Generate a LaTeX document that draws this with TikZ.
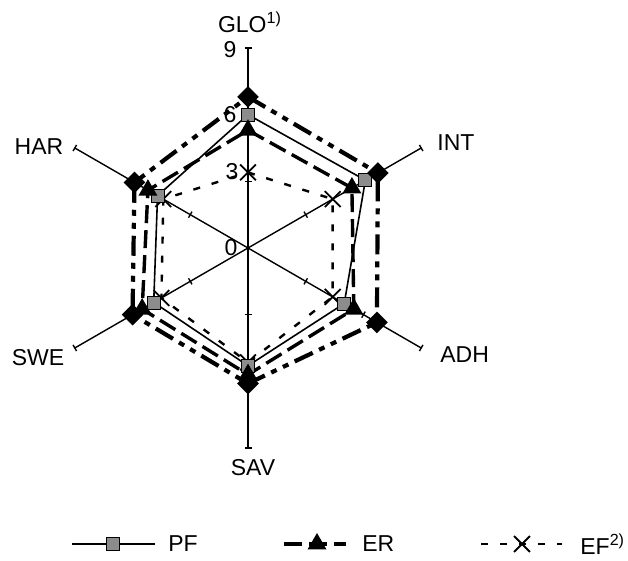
\documentclass[tikz,border=0pt]{standalone}
\usepackage{fontspec}
\setmainfont{Liberation Sans}
\usetikzlibrary{arrows,positioning,shapes.geometric,shapes.misc,calc}

\begin{document}
\begin{tikzpicture}[x=0.5pt,y=0.5pt,
  every node/.style={font=\fontsize{11.5}{13}\selectfont,inner sep=0pt},
  axis/.style={line width=0.7pt},
  pfline/.style={line width=0.8pt},
  erline/.style={line width=1.7pt,dash pattern=on 9pt off 3.5pt},
  efline/.style={line width=1.2pt,dash pattern=on 3.5pt off 6pt},
  dmline/.style={line width=2.1pt,dash pattern=on 10pt off 3.5pt on 3pt off 3.5pt on 3pt off 3.5pt},
  pfmark/.style={rectangle,draw,line width=0.4pt,fill=black!45,minimum size=6.5pt},
  ermark/.style={regular polygon,regular polygon sides=3,fill,minimum size=11pt},
  efmark/.style={cross out,draw,line width=0.9pt,minimum size=7pt},
  dmmark/.style={diamond,fill,minimum size=11pt}]
  \useasboundingbox (0,0) rectangle (628,561);
  \coordinate (O) at (248,313);
  % axes with ticks at 3, 6, 9
  \foreach \nm/\ang in {glo/90,int/30,adh/-30,sav/-90,swe/210,har/150}{
    \coordinate (\nm) at ($(O)+(\ang:200)$);
    \draw[axis] (O) -- (\nm);
    \foreach \t in {3,6,9}
      \draw[axis] ($(O)+(\ang:\t*22.22)+({\ang+90}:3.5)$) -- ($(O)+(\ang:\t*22.22)+({\ang-90}:3.5)$);
  }
  % data points
  \foreach \nm/\ang/\dm/\pf/\er/\ef in {glo/90/6.8/6.0/5.3/3.4,int/30/6.75/6.1/5.4/4.4,
      adh/-30/6.7/5.0/5.5/4.4,sav/-90/6.1/5.3/5.7/5.15,swe/210/6.0/4.9/5.5/4.5,har/150/5.9/4.7/5.2/4.4}{
    \coordinate (dm-\nm) at ($(O)+(\ang:\dm*22.22)$);
    \coordinate (pf-\nm) at ($(O)+(\ang:\pf*22.22)$);
    \coordinate (er-\nm) at ($(O)+(\ang:\er*22.22)$);
    \coordinate (ef-\nm) at ($(O)+(\ang:\ef*22.22)$);
  }
  \draw[efline] (ef-glo) -- (ef-int) -- (ef-adh) -- (ef-sav) -- (ef-swe) -- (ef-har) -- cycle;
  \draw[pfline] (pf-glo) -- (pf-int) -- (pf-adh) -- (pf-sav) -- (pf-swe) -- (pf-har) -- cycle;
  \draw[erline] (er-glo) -- (er-int) -- (er-adh) -- (er-sav) -- (er-swe) -- (er-har) -- cycle;
  \draw[dmline] (dm-glo) -- (dm-int) -- (dm-adh) -- (dm-sav) -- (dm-swe) -- (dm-har) -- cycle;
  \foreach \nm in {glo,int,adh,sav,swe,har}{
    \node[efmark] (efm-\nm) at (ef-\nm) {};
    \node[pfmark] (pfm-\nm) at (pf-\nm) {};
    \node[ermark] (erm-\nm) at (er-\nm) {};
    \node[dmmark] (dmm-\nm) at (dm-\nm) {};
  }
  % scale and axis labels
  \node (n9) at (230,511) {9};
  \node (n6) at (230,446) {6};
  \node (n3) at (232,389) {3};
  \node (n0) at (231,313) {0};
  \node (glotxt) at (250,539) {GLO\textsuperscript{1)}};
  \node[anchor=west] (inttxt) at (437,418) {INT};
  \node[anchor=west] (adhtxt) at (440,206) {ADH};
  \node (savtxt) at (253,93) {SAV};
  \node (swetxt) at (38,203) {SWE};
  \node (hartxt) at (39,414) {HAR};
  % legend
  \coordinate (pfL) at (72,17);
  \coordinate (pfR) at (155,17);
  \draw[pfline] (pfL) -- (pfR);
  \node[pfmark] (pfkey) at (113,17) {};
  \node[anchor=west] (pftxt) [right=6.5pt of pfR] {PF};
  \coordinate (erL) at (284,17);
  \coordinate (erR) at (346,17);
  \draw[erline] (erL) -- (erR);
  \node[ermark] (erkey) at (317,17) {};
  \node[anchor=west] (ertxt) [right=8pt of erR] {ER};
  \coordinate (efL) at (481,17);
  \coordinate (efR) at (562,17);
  \draw[efline] (efL) -- (efR);
  \node[efmark] (efkey) at (522,17) {};
  \node[anchor=west] (eftxt) [right=9pt of efR] {EF\textsuperscript{2)}};
\end{tikzpicture}
\end{document}
